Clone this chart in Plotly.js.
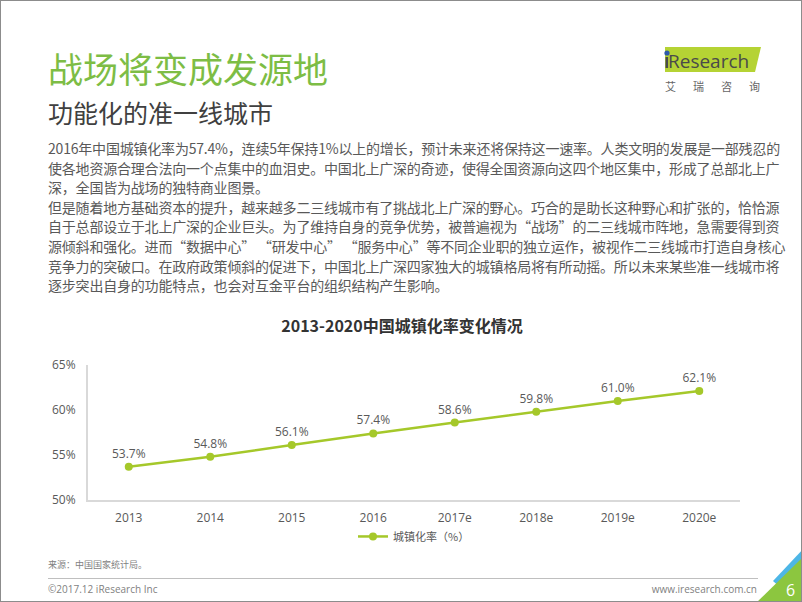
<!DOCTYPE html>
<html>
<head>
<meta charset="utf-8">
<script src="https://cdn.plot.ly/plotly-3.0.1.min.js"></script>
<style>
  body { margin: 0; background: #fff; }
  #slide { position: relative; width: 800px; height: 600px; border: 1px solid #8c8c8c; overflow: hidden;
           font-family: "Open Sans", "Noto Sans CJK SC", sans-serif; }
  .abs { position: absolute; white-space: nowrap; }
  #title { left: 47px; top: 49px; font-size: 35px; line-height: 36px; color: #7dbd45; font-family: "Noto Sans CJK SC"; }
  #subtitle { left: 47px; top: 98px; font-size: 25px; line-height: 26px; color: #404040; font-family: "Noto Sans CJK SC"; }
  #body { left: 47px; top: 138px; font-size: 14px; line-height: 19.6px; color: #595959; letter-spacing: -0.2px;
          font-family: "Noto Sans CJK SC", sans-serif; }
  #chart { position: absolute; left: 0; top: 300px; width: 802px; height: 250px; }
  #source { left: 47px; top: 557px; font-size: 9px; color: #7f7f7f; font-family: "Noto Sans CJK SC"; }
  #rule { position: absolute; left: 47px; top: 577px; width: 710px; height: 1px; background: #bfbfbf; }
  #copy { left: 47px; top: 581px; font-size: 10px; color: #7f7f7f; }
  #web { right: 44px; top: 581px; font-size: 10px; color: #7f7f7f; }
</style>
</head>
<body>
<div id="slide">
  <div class="abs" id="title">战场将变成发源地</div>
  <div class="abs" id="subtitle">功能化的准一线城市</div>
  <div class="abs" id="body">
    2016年中国城镇化率为57.4%，连续5年保持1%以上的增长，预计未来还将保持这一速率。人类文明的发展是一部残忍的<br>
    使各地资源合理合法向一个点集中的血泪史。中国北上广深的奇迹，使得全国资源向这四个地区集中，形成了总部北上广<br>
    深，全国皆为战场的独特商业图景。<br>
    但是随着地方基础资本的提升，越来越多二三线城市有了挑战北上广深的野心。巧合的是助长这种野心和扩张的，恰恰源<br>
    自于总部设立于北上广深的企业巨头。为了维持自身的竞争优势，被普遍视为“战场”的二三线城市阵地，急需要得到资<br>
    源倾斜和强化。进而“数据中心” “研发中心” “服务中心”等不同企业职的独立运作，被视作二三线城市打造自身核心<br>
    竞争力的突破口。在政府政策倾斜的促进下，中国北上广深四家独大的城镇格局将有所动摇。所以未来某些准一线城市将<br>
    逐步突出自身的功能特点，也会对互金平台的组织结构产生影响。
  </div>

  <svg class="abs" style="left:0;top:0" width="802" height="602">
    <!-- logo -->
    <polygon points="664,46 760,46 754,71 664,71" fill="#b5d334"/>
    <circle cx="666" cy="52" r="2.6" fill="#2e5aa8"/>
    <text x="667" y="67" font-family="Open Sans" font-size="19" fill="#4a4a4a">Research</text>
    <rect x="664.5" y="56" width="2.6" height="11" fill="#4a4a4a"/>
    <text x="664" y="90" font-family="Noto Sans CJK SC" font-size="11" fill="#666" letter-spacing="17">艾瑞咨询</text>
    <!-- corner -->
    <polygon points="772,580 802,548 802,563 780,587" fill="#4db6e6"/>
    <polygon points="755,602 802,556 802,602" fill="#8cc63f"/>
    <text x="785" y="595" font-family="Open Sans" font-size="16" fill="#fff">6</text>
  </svg>

  <div id="chart"></div>

  <div class="abs" id="source">来源：中国国家统计局。</div>
  <div id="rule"></div>
  <div class="abs" id="copy">©2017.12 iResearch Inc</div>
  <div class="abs" id="web">www.iresearch.com.cn</div>
</div>

<script>
// 2013-2020 urbanization rate (%)
const years = ['2013', '2014', '2015', '2016', '2017e', '2018e', '2019e', '2020e'];
const rates = [53.7, 54.8, 56.1, 57.4, 58.6, 59.8, 61.0, 62.1];
const yTicks = [50, 55, 60, 65];

const trace = {
  type: 'scatter',
  mode: 'lines+markers+text',
  name: '城镇化率（%）',
  x: years,
  y: rates,
  text: rates.map(v => v.toFixed(1) + '%'),
  textposition: 'top center',
  textfont: { size: 12, color: '#595959' },
  line: { color: '#a5c82a', width: 2.5 },
  marker: { color: '#a5c82a', size: 8 },
  cliponaxis: false
};

Plotly.newPlot('chart', [trace], {
  width: 802,
  height: 250,
  margin: { l: 87, r: 63, t: 64, b: 51, autoexpand: false },
  paper_bgcolor: 'rgba(0,0,0,0)',
  plot_bgcolor: 'rgba(0,0,0,0)',
  font: { family: '"Open Sans", "Noto Sans CJK SC", sans-serif', color: '#595959', size: 12 },
  title: {
    text: '<b>2013-2020中国城镇化率变化情况</b>',
    font: { size: 16, color: '#333', family: '"Noto Sans CJK SC", sans-serif' },
    x: 0.5, xanchor: 'center', y: 0.9, yanchor: 'middle'
  },
  showlegend: true,
  legend: { orientation: 'h', x: 0.5, xanchor: 'center', y: -0.27, yanchor: 'middle',
            font: { size: 11, color: '#595959', family: '"Noto Sans CJK SC", sans-serif' } },
  xaxis: {
    type: 'category', range: [-0.5, 7.5],
    showline: true, linecolor: '#d9d9d9', linewidth: 2,
    showgrid: false, zeroline: false, ticks: '', ticklabelstandoff: 6
  },
  yaxis: {
    range: [50, 65], tickmode: 'array', tickvals: yTicks, ticktext: yTicks.map(v => v + '%'),
    showline: true, linecolor: '#d9d9d9', linewidth: 2,
    showgrid: false, zeroline: false, ticks: '', ticklabelstandoff: 8
  }
}, { displayModeBar: false, staticPlot: true });
</script>
</body>
</html>
